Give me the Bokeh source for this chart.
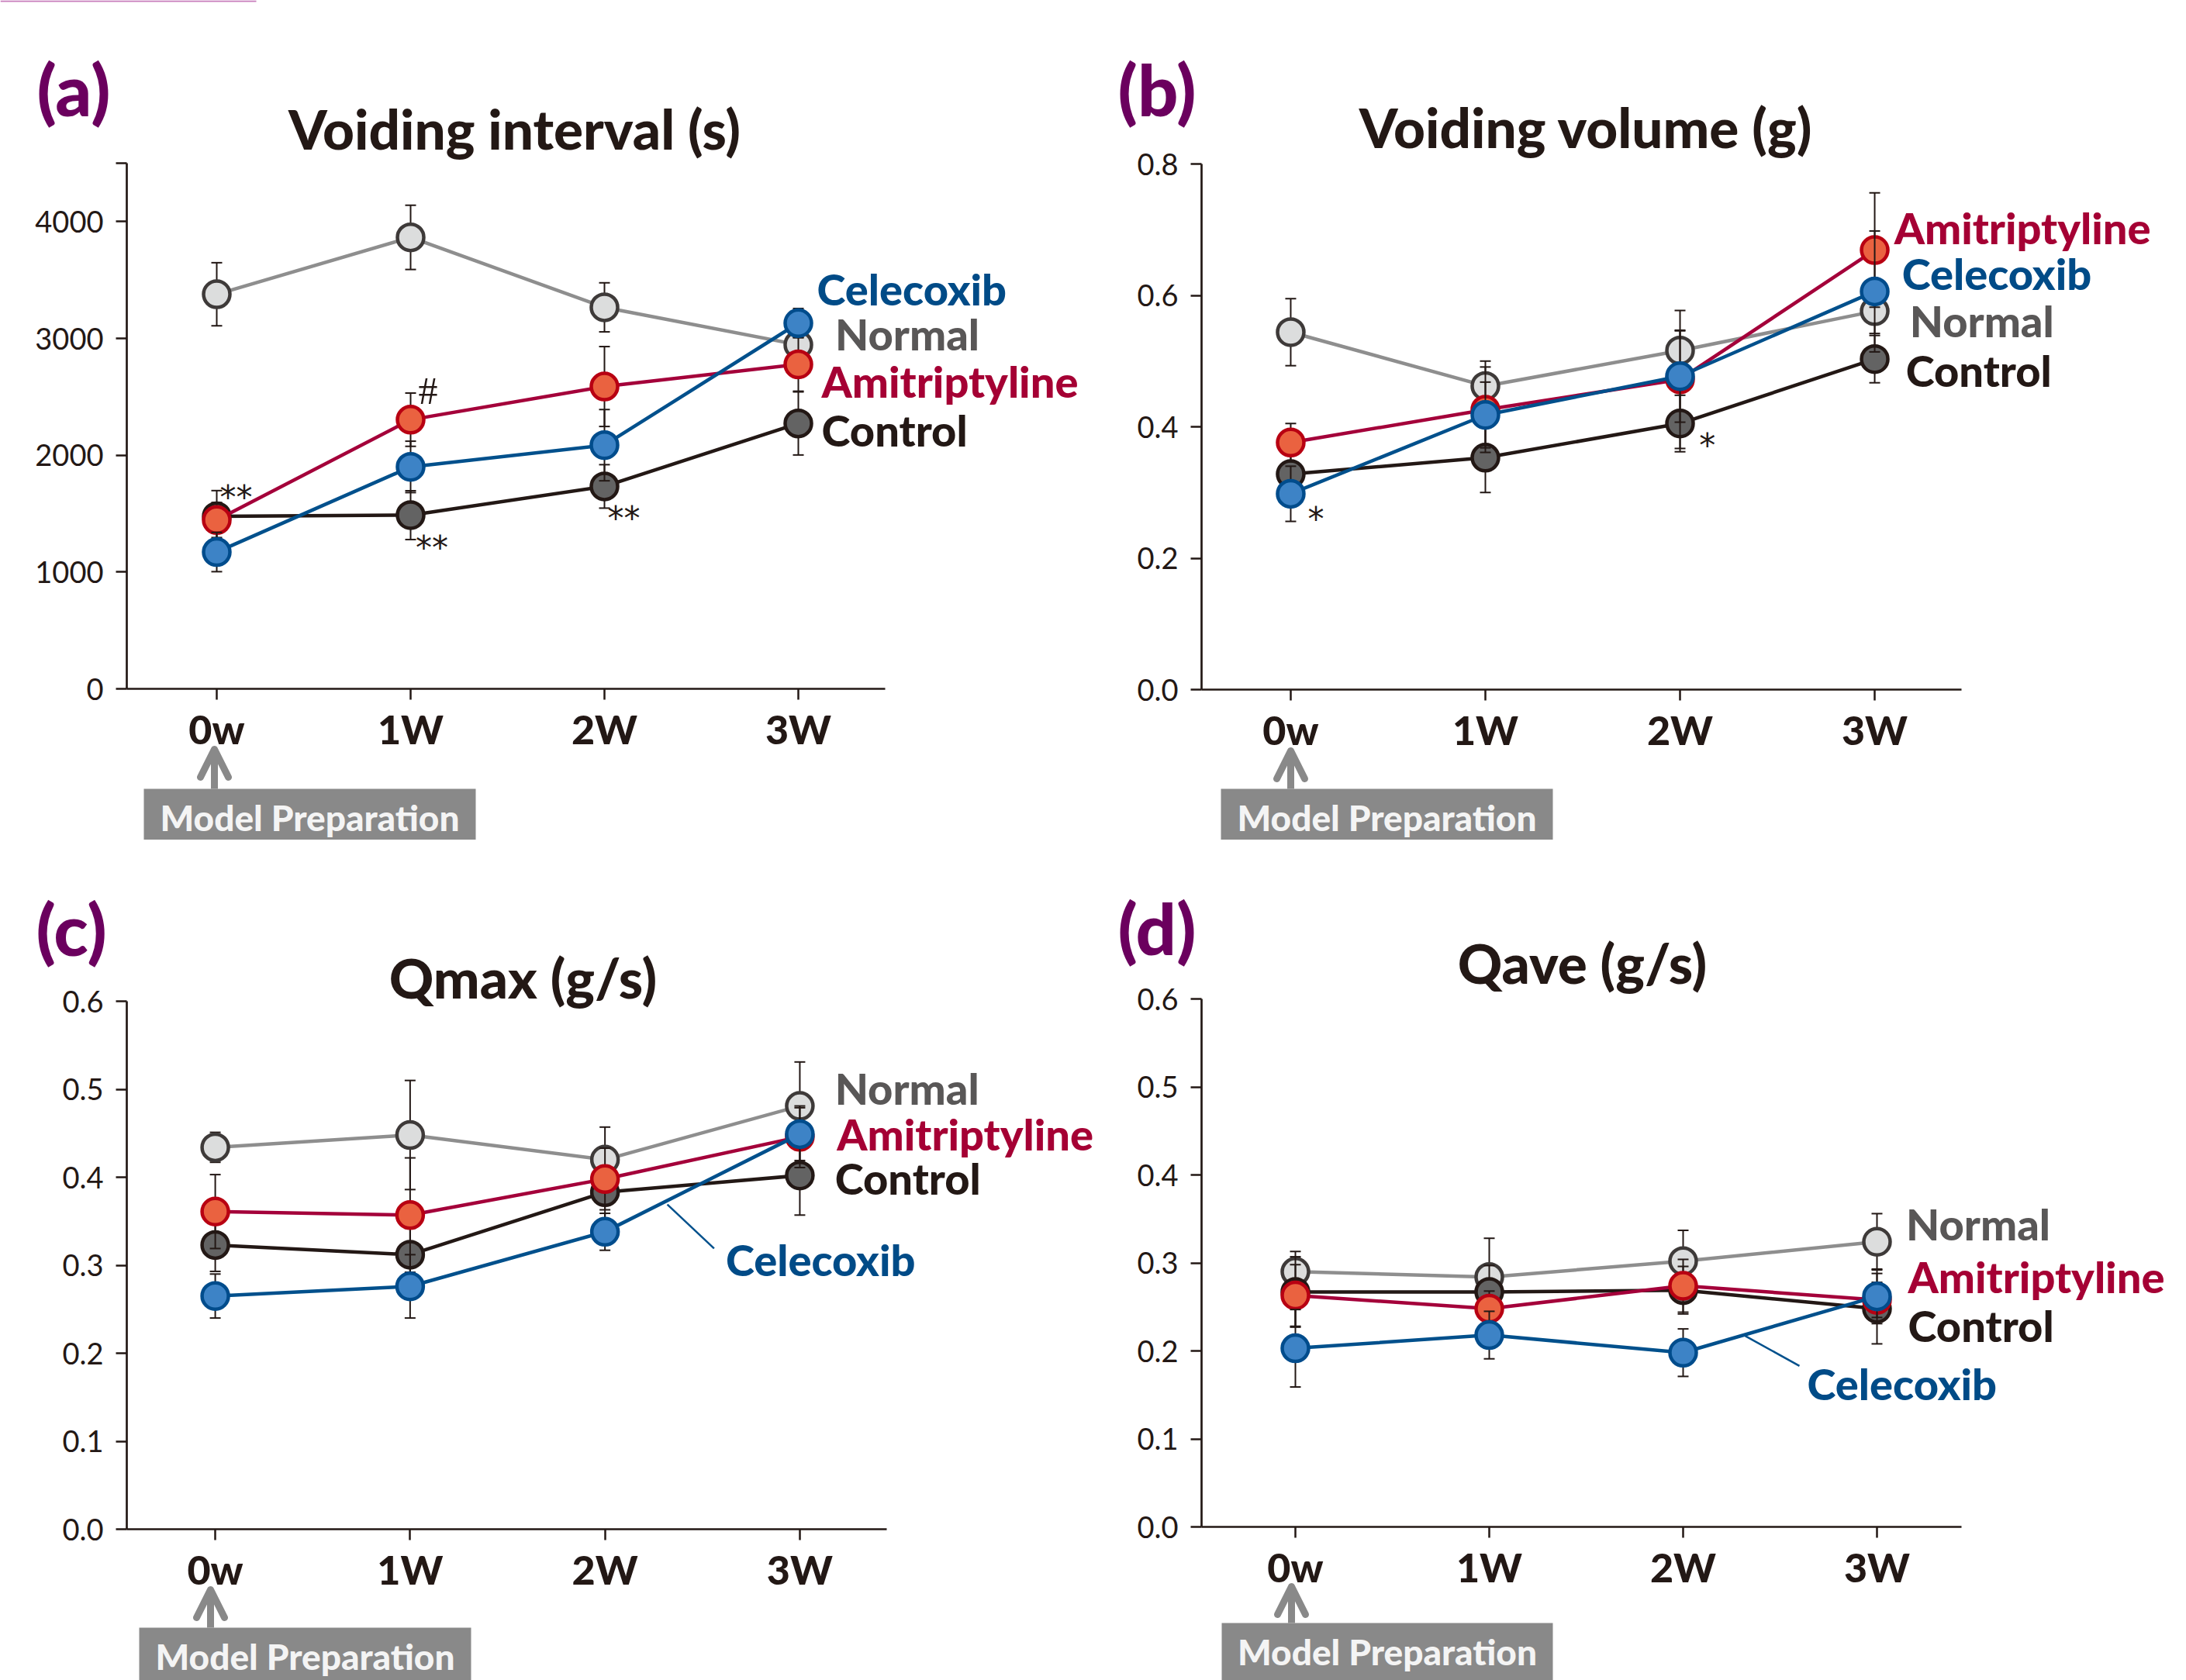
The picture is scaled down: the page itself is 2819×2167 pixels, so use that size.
from bokeh.plotting import figure
from bokeh.models import (Range1d, FixedTicker, PrintfTickFormatter, Label, Arrow,
                          OpenHead, BoxAnnotation)
from bokeh.layouts import column, row
from bokeh.embed import file_html
from bokeh.resources import INLINE

# ---------------- data ----------------
weeks = [0, 1, 2, 3]
week_labels = ["0w", "1W", "2W", "3W"]
groups = ["Normal", "Control", "Amitriptyline", "Celecoxib"]

# (a) Voiding interval (s)
interval_normal = [3378, 3865, 3266, 2946]
interval_normal_sem = [270, 275, 210, 130]
interval_control = [1477, 1487, 1733, 2272]
interval_control_sem = [220, 209, 186, 270]
interval_amitriptyline = [1445, 2304, 2588, 2778]
interval_amitriptyline_sem = [150, 228, 342, 230]
interval_celecoxib = [1171, 1900, 2086, 3131]
interval_celecoxib_sem = [168, 220, 305, 125]

# (b) Voiding volume (g)
volume_normal = [0.544, 0.462, 0.516, 0.576]
volume_normal_sem = [0.051, 0.038, 0.030, 0.034]
volume_control = [0.328, 0.353, 0.405, 0.503]
volume_control_sem = [0.030, 0.053, 0.043, 0.036]
volume_amitriptyline = [0.376, 0.426, 0.472, 0.669]
volume_amitriptyline_sem = [0.029, 0.065, 0.105, 0.087]
volume_celecoxib = [0.298, 0.418, 0.477, 0.606]
volume_celecoxib_sem = [0.042, 0.050, 0.070, 0.092]

# (c) Qmax (g/s)
qmax_normal = [0.434, 0.448, 0.420, 0.481]
qmax_normal_sem = [0.017, 0.062, 0.037, 0.050]
qmax_control = [0.323, 0.312, 0.383, 0.402]
qmax_control_sem = [0.030, 0.030, 0.030, 0.045]
qmax_amitriptyline = [0.361, 0.357, 0.398, 0.446]
qmax_amitriptyline_sem = [0.042, 0.065, 0.035, 0.035]
qmax_celecoxib = [0.265, 0.276, 0.338, 0.449]
qmax_celecoxib_sem = [0.025, 0.036, 0.021, 0.030]

# (d) Qave (g/s)
qave_normal = [0.290, 0.284, 0.302, 0.324]
qave_normal_sem = [0.023, 0.044, 0.035, 0.032]
qave_control = [0.267, 0.267, 0.269, 0.248]
qave_control_sem = [0.040, 0.030, 0.027, 0.040]
qave_amitriptyline = [0.263, 0.248, 0.274, 0.258]
qave_amitriptyline_sem = [0.035, 0.020, 0.030, 0.020]
qave_celecoxib = [0.203, 0.218, 0.198, 0.262]
qave_celecoxib_sem = [0.044, 0.027, 0.027, 0.031]

# significance marks
interval_sig_text = ["**", "#", "**", "**"]
interval_sig_x = [0.10, 1.09, 1.11, 2.10]
interval_sig_y = [1640, 2550, 1210, 1460]
volume_sig_text = ["*", "*"]
volume_sig_x = [0.13, 2.14]
volume_sig_y = [0.26, 0.372]

# ---------------- styles ----------------
INK = "#231815"
BOXGRAY = "#898989"
FONT = "Lato"
HEAVY = "'Lato Black', Lato"
STYLE = {
    "Normal": dict(line="#8e8e8e", fill="#dcdddd", edge="#3e3a39", text="#595757"),
    "Control": dict(line="#231815", fill="#636363", edge="#231815", text="#231815"),
    "Amitriptyline": dict(line="#a4003a", fill="#ea6240", edge="#b80012", text="#a50034"),
    "Celecoxib": dict(line="#00508c", fill="#3d83c6", edge="#004c8c", text="#004b87"),
}
BASE_SHIFT = 0.36  # raise alphabetic-baseline texts by this fraction of their size


def make_panel(letter, title, series, y_end, y_ticks, y_fmt, geom, label_pos,
               sig=None, leader=None, top_blank=None, corner_mark=False):
    bl, fw, br = geom["bl"], geom["fw"], geom["br"]
    bt, fh, bb = geom["bt"], geom["fh"], geom["bb"]
    W, H = bl + fw + br, bt + fh + bb
    x0, x1 = geom["xr"]
    kx = (x1 - x0) / fw
    ky = y_end / fh
    p = figure(width=W, height=H, min_border=0,
               x_range=Range1d(x0 - bl * kx, x1 + br * kx),
               y_range=Range1d(-bb * ky, y_end + bt * ky),
               output_backend="svg", toolbar_location=None, tools="")
    p.outline_line_color = None
    p.grid.visible = False
    p.background_fill_color = "white"
    p.border_fill_color = "white"

    for ax in (p.xaxis[0], p.yaxis[0]):
        ax.axis_line_width = 2.7
        ax.axis_line_color = INK
        ax.major_tick_line_width = 2.5
        ax.major_tick_line_color = INK
        ax.major_tick_out = 14
        ax.major_tick_in = 0
        ax.minor_tick_line_color = None
        ax.major_label_text_color = INK

    p.xaxis.fixed_location = 0
    p.xaxis.bounds = (x0, x1)
    p.yaxis.fixed_location = x0
    p.yaxis.bounds = (0, y_end)

    p.xaxis.ticker = FixedTicker(ticks=weeks)
    p.xaxis.major_label_overrides = {w: l for w, l in zip(weeks, week_labels)}
    p.xaxis.major_label_text_font = HEAVY
    p.xaxis.major_label_text_font_size = "52px"
    p.xaxis.major_label_text_font_style = "bold"
    p.xaxis.major_label_standoff = 6

    p.yaxis.ticker = FixedTicker(ticks=y_ticks)
    p.yaxis.formatter = PrintfTickFormatter(format=y_fmt)
    if top_blank is not None:
        p.yaxis.major_label_overrides = {top_blank: ""}
    p.yaxis.major_label_text_font = FONT
    p.yaxis.major_label_text_font_size = "38px"
    p.yaxis.major_label_standoff = 16

    # series
    for g in groups:
        mean, sem = series[g]
        st = STYLE[g]
        lo = [m - s for m, s in zip(mean, sem)]
        hi = [m + s for m, s in zip(mean, sem)]
        p.segment(x0=weeks, y0=lo, x1=weeks, y1=hi, line_color=INK, line_width=2)
        p.scatter(x=weeks + weeks, y=lo + hi, marker="dash", size=14,
                  line_color=INK, line_width=2)
        p.line(weeks, mean, line_color=st["line"], line_width=4.5)
        p.scatter(weeks, mean, size=34, fill_color=st["fill"],
                  line_color=st["edge"], line_width=4.5)

    # series labels
    for g in groups:
        lx, ly = label_pos[g]
        p.add_layout(Label(x=lx, y=ly, y_offset=BASE_SHIFT * 56, text=g,
                           text_font=HEAVY, text_font_style="bold",
                           text_font_size="56px", text_color=STYLE[g]["text"],
                           text_baseline="alphabetic"))
    if leader is not None:
        p.segment(x0=[leader[0]], y0=[leader[1]], x1=[leader[2]], y1=[leader[3]],
                  line_color=STYLE["Celecoxib"]["line"], line_width=2.5)

    if sig is not None:
        for t, sx, sy in zip(*sig):
            if t == "#":
                p.add_layout(Label(x=sx, y=sy, text=t, text_font="Liberation Serif",
                                   text_font_size="50px", text_color=INK,
                                   text_align="center", text_baseline="middle"))
            else:
                p.add_layout(Label(x=sx, y=sy, text=t, text_font="DejaVu Sans",
                                   text_font_size="42px", text_color=INK,
                                   text_align="center", text_baseline="middle"))

    # title and panel letter (screen offsets measured from the axes corner)
    p.add_layout(Label(x=bl + geom["title"][0], y=bb + geom["title"][1] + BASE_SHIFT * 71,
                       x_units="screen", y_units="screen", text=title,
                       text_font=HEAVY, text_font_style="bold",
                       text_font_size="71px", text_color=INK,
                       text_align="center", text_baseline="alphabetic"))
    p.add_layout(Label(x=bl + geom["letter"][0], y=bb + geom["letter"][1] + BASE_SHIFT * 92,
                       x_units="screen", y_units="screen", text=letter,
                       text_font=HEAVY, text_font_style="bold",
                       text_font_size="92px", text_color="#6b005e",
                       text_baseline="alphabetic"))

    # model preparation box + arrow
    bx0, bx1, by0, by1 = geom["box"]
    p.add_layout(BoxAnnotation(left=bl + bx0, right=bl + bx1, top=bb + by0, bottom=bb + by1,
                               left_units="screen", right_units="screen",
                               top_units="screen", bottom_units="screen",
                               fill_color=BOXGRAY, fill_alpha=1, line_color=None))
    p.add_layout(Label(x=bl + (bx0 + bx1) / 2, y=bb + (by0 + by1) / 2,
                       x_units="screen", y_units="screen",
                       text="Model Preparation", text_font=HEAVY,
                       text_font_style="bold", text_font_size="46px",
                       text_color="#f4f4f4", text_align="center",
                       text_baseline="middle"))
    ax_, a0, a1 = geom["arrow"]
    p.add_layout(Arrow(x_start=bl + ax_, y_start=bb + a0, x_end=bl + ax_, y_end=bb + a1,
                       start_units="screen", end_units="screen",
                       line_color=BOXGRAY, line_width=9,
                       end=OpenHead(size=36, line_width=9, line_color=BOXGRAY,
                                    line_cap="round", line_join="round")))
    if corner_mark:
        p.add_layout(BoxAnnotation(left=0, right=330, top=H, bottom=H - 2,
                                   left_units="screen", right_units="screen",
                                   top_units="screen", bottom_units="screen",
                                   fill_color="#c77dbb", fill_alpha=1, line_color=None))
    return p


geom_a = dict(fw=978, fh=678, bl=163, br=267, bt=210, bb=195, xr=(-0.464, 3.448),
              title=(500, 697), letter=(-116, 741), box=(22, 450, -129, -203),
              arrow=(113, -129, -78))
geom_b = dict(fw=980, fh=678, bl=141, br=290, bt=211, bb=194, xr=(-0.458, 3.446),
              title=(496, 700), letter=(-108, 742), box=(25, 453, -128, -202),
              arrow=(115, -128, -79))
geom_c = dict(fw=980, fh=681, bl=163, br=277, bt=208, bb=195, xr=(-0.454, 3.446),
              title=(511, 686), letter=(-117, 742), box=(16, 444, -127, -201),
              arrow=(108, -127, -78))
geom_d = dict(fw=980, fh=681, bl=129, br=290, bt=205, bb=198, xr=(-0.484, 3.436),
              title=(491, 702), letter=(-108, 740), box=(26, 453, -124, -198),
              arrow=(116, -124, -77))

pa = make_panel(
    "(a)", "Voiding interval (s)",
    {"Normal": (interval_normal, interval_normal_sem),
     "Control": (interval_control, interval_control_sem),
     "Amitriptyline": (interval_amitriptyline, interval_amitriptyline_sem),
     "Celecoxib": (interval_celecoxib, interval_celecoxib_sem)},
    4500, [0, 1000, 2000, 3000, 4000, 4500], "%d", geom_a,
    {"Celecoxib": (3.096, 3289), "Normal": (3.19, 2904),
     "Amitriptyline": (3.12, 2498), "Control": (3.12, 2086)},
    sig=(interval_sig_text, interval_sig_x, interval_sig_y), top_blank=4500,
    corner_mark=True)

pb = make_panel(
    "(b)", "Voiding volume (g)",
    {"Normal": (volume_normal, volume_normal_sem),
     "Control": (volume_control, volume_control_sem),
     "Amitriptyline": (volume_amitriptyline, volume_amitriptyline_sem),
     "Celecoxib": (volume_celecoxib, volume_celecoxib_sem)},
    0.8, [0, 0.2, 0.4, 0.6, 0.8], "%.1f", geom_b,
    {"Amitriptyline": (3.10, 0.679), "Celecoxib": (3.14, 0.610),
     "Normal": (3.18, 0.538), "Control": (3.16, 0.462)},
    sig=(volume_sig_text, volume_sig_x, volume_sig_y))

pc = make_panel(
    "(c)", "Qmax (g/s)",
    {"Normal": (qmax_normal, qmax_normal_sem),
     "Control": (qmax_control, qmax_control_sem),
     "Amitriptyline": (qmax_amitriptyline, qmax_amitriptyline_sem),
     "Celecoxib": (qmax_celecoxib, qmax_celecoxib_sem)},
    0.6, [0, 0.1, 0.2, 0.3, 0.4, 0.5, 0.6], "%.1f", geom_c,
    {"Normal": (3.18, 0.484), "Amitriptyline": (3.19, 0.432),
     "Control": (3.18, 0.381), "Celecoxib": (2.62, 0.289)},
    leader=(2.32, 0.369, 2.56, 0.319))

pd_ = make_panel(
    "(d)", "Qave (g/s)",
    {"Normal": (qave_normal, qave_normal_sem),
     "Control": (qave_control, qave_control_sem),
     "Amitriptyline": (qave_amitriptyline, qave_amitriptyline_sem),
     "Celecoxib": (qave_celecoxib, qave_celecoxib_sem)},
    0.6, [0, 0.1, 0.2, 0.3, 0.4, 0.5, 0.6], "%.1f", geom_d,
    {"Normal": (3.15, 0.327), "Amitriptyline": (3.16, 0.267),
     "Control": (3.16, 0.211), "Celecoxib": (2.64, 0.145)},
    leader=(2.32, 0.217, 2.60, 0.183))

layout = column(row(pa, pb), row(pc, pd_))
open("out.html", "w").write(file_html(layout, INLINE))
